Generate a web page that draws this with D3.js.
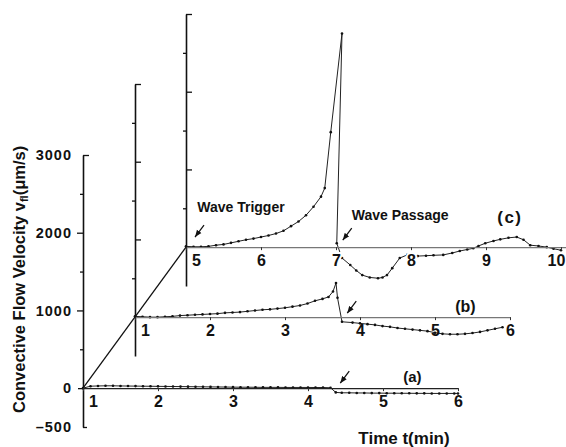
<!DOCTYPE html>
<html>
<head>
<meta charset="utf-8">
<script src="https://cdn.jsdelivr.net/npm/d3@7"></script>
<style>
body{margin:0;background:#fff;}
text{font-family:"Liberation Sans",Arial,Helvetica,sans-serif;font-weight:bold;fill:#111;}
</style>
</head>
<body>
<div class="chart"></div>
<script>
// trace (a): time in min, convective flow velocity in um/s
const timeA = [1.0,1.1,1.2,1.3,1.4,1.5,1.6,1.7,1.8,1.9,2.0,2.1,2.2,2.3,2.4,2.5,2.6,2.7,2.8,2.9,3.0,3.1,3.2,3.3,3.4,3.5,3.6,3.7,3.8,3.9,4.0,4.1,4.2,4.3,4.37,4.45,4.55,4.65,4.75,4.85,4.95,5.05,5.15,5.25,5.35,5.45,5.55,5.65,5.75,5.85,5.95,6.0];
const velA  = [0,25,28,30,30,28,27,26,25,24,23,22,21,20,19,18,17,16,15,14,13,12,12,11,10,10,10,9,9,9,9,8,8,5,-55,-60,-60,-62,-62,-64,-64,-65,-65,-66,-66,-67,-67,-68,-68,-68,-68,-68];
// trace (b)
const timeB = [1.0,1.1,1.2,1.3,1.4,1.5,1.6,1.7,1.8,1.9,2.0,2.1,2.2,2.3,2.4,2.5,2.6,2.7,2.8,2.9,3.0,3.1,3.2,3.3,3.4,3.5,3.58,3.64,3.68,3.70,3.76,3.9,4.0,4.1,4.2,4.3,4.4,4.5,4.6,4.7,4.8,4.9,5.0,5.1,5.2,5.3,5.4,5.5,5.6,5.7,5.8,5.9];
const velB  = [10,5,0,0,5,10,20,25,30,35,40,45,55,60,65,75,85,95,100,110,120,135,150,175,210,235,260,330,440,250,-60,-70,-80,-90,-100,-115,-125,-140,-150,-160,-170,-180,-200,-215,-220,-220,-215,-205,-190,-170,-150,-130];
// trace (c)
const timeC = [5.0,5.1,5.2,5.3,5.4,5.5,5.6,5.7,5.8,5.9,6.0,6.1,6.2,6.3,6.4,6.5,6.6,6.7,6.8,6.85,6.93,7.08,7.01,7.08,7.19,7.27,7.35,7.45,7.56,7.62,7.68,7.75,7.85,7.95,8.09,8.2,8.3,8.43,8.55,8.65,8.75,8.83,8.9,8.99,9.1,9.19,9.3,9.41,9.5,9.59,9.7,9.81,9.9,10.0];
const velC  = [10,5,5,10,25,35,55,75,95,110,130,150,175,210,270,330,410,520,650,760,1480,2750,50,-140,-230,-300,-360,-390,-400,-390,-360,-270,-140,-100,-115,-110,-105,-100,-75,-50,-30,-15,15,50,80,100,120,130,95,25,15,0,-20,-40];

const yTicks = [-500,0,500,1000,1500,2000,2500,3000];
const yLabels = [3000,2000,1000,0,-500];
const xTicksA = [1,2,3,4,5,6];
const xTicksB = [1,2,3,4,5,6];
const xTicksC = [5,6,7,8,9,10];
const traceNames = ["(a)","(b)","(c)"];

let outWidth = 566, outHeight = 447;

const svg = d3.select('.chart').append('svg')
  .attr("width", outWidth)
  .attr("height", outHeight);

svg.append("defs").append("marker")
  .attr("id","head")
  .attr("viewBox","0 0 10 10")
  .attr("refX",10).attr("refY",5)
  .attr("markerUnits","userSpaceOnUse")
  .attr("markerWidth",7).attr("markerHeight",7)
  .attr("orient","auto")
  .append("path").attr("d","M0,1L10,5L0,9z").attr("fill","#111");

const y = d3.scaleLinear().domain([-500,3000]).range([427,155]);
const xA = d3.scaleLinear().domain([1,6]).range([83,458]);
const xB = d3.scaleLinear().domain([1,6]).range([83,458]);
const xC = d3.scaleLinear().domain([5,10.07]).range([83,463.25]);

// depth offset of each trace (pseudo 3d stacking)
const gA = svg.append("g");
const gB = svg.append("g").attr("transform","translate(52,-71)");
const gC = svg.append("g").attr("transform","translate(103,-141)");

// oblique line through the three origins
svg.append("line")
  .attr("x1", xA(1)).attr("y1", y(0))
  .attr("x2", xA(1)+103).attr("y2", y(0)-141)
  .attr("stroke","#111").attr("stroke-width",1.3);

function drawPanel(g, x, times, vals, ticks, main, halo){
  const pts = d3.zip(times, vals);

  // vertical axis
  const ya = g.append("g")
    .attr("transform", `translate(${x.range()[0]},0)`)
    .call(d3.axisLeft(y).tickValues(yTicks).tickSizeOuter(0)
      .tickFormat(d => main && yLabels.includes(d) ? String(d).replace("-","\u2013") : "")
      .tickPadding(5));
  ya.select(".domain").attr("stroke","#111").attr("stroke-width",1.6);
  ya.selectAll(".tick line")
    .attr("stroke","#111").attr("stroke-width",1.3)
    .attr("x2", d => {
      if (d === 3000) return 6;
      if (d === -500) return main ? 4 : 0;
      if (d === 0) return main ? -5 : 0;
      if (d % 1000 === 0) return main ? -6 : 6;
      return -3;
    });
  ya.selectAll(".tick text")
    .attr("font-size",14.5).attr("font-family",null).attr("letter-spacing",1)
    .attr("fill","#111");

  // line + sample markers
  g.append("path")
    .datum(pts)
    .attr("fill","none")
    .attr("stroke","#222")
    .attr("stroke-width",1)
    .attr("d", d3.line().x(d=>x(d[0])).y(d=>y(d[1])));
  g.selectAll("circle.pt")
    .data(pts)
    .enter()
    .append("circle")
    .attr("class","pt")
    .attr("cx", d=>x(d[0]))
    .attr("cy", d=>y(d[1]))
    .attr("r",1.3)
    .attr("fill","#111");

  // time axis
  const xa = g.append("g")
    .attr("transform", `translate(0,${y(0)})`)
    .call(d3.axisBottom(x).tickValues(ticks).tickSize(3).tickSizeOuter(0).tickPadding(4)
      .tickFormat(d3.format("d")));
  xa.select(".domain").attr("stroke", main ? "#222" : "#777").attr("stroke-width",1.2);
  xa.selectAll(".tick line").attr("stroke","#333");
  xa.selectAll(".tick text")
    .attr("font-size",16).attr("font-family",null).attr("fill","#111")
    .attr("x", d => d === ticks[0] ? 10 : (d === 10 ? -5 : 0));
  if (halo) {
    xa.selectAll(".tick text")
      .attr("stroke","#fff").attr("stroke-width",4).attr("paint-order","stroke");
  }
}

drawPanel(gA, xA, timeA, velA, xTicksA, true, false);
drawPanel(gB, xB, timeB, velB, xTicksB, false, false);
drawPanel(gC, xC, timeC, velC, xTicksC, false, true);

function arrow(g, px, py){
  g.append("line")
    .attr("x1", px+9).attr("y1", py-12)
    .attr("x2", px).attr("y2", py)
    .attr("stroke","#111").attr("stroke-width",1.3)
    .attr("marker-end","url(#head)");
}
arrow(gC, xC(5.12), y(130));
arrow(gC, xC(7.09), y(90));
arrow(gB, xB(3.83), y(51));
arrow(gA, xA(4.43), y(64));

gC.append("text").attr("x", xC(5.15)).attr("y", y(450)).attr("font-size",14).text("Wave Trigger");
gC.append("text").attr("x", xC(7.21)).attr("y", y(347)).attr("font-size",14).text("Wave Passage");
gC.append("text").attr("x", xC(9.15)).attr("y", y(309)).attr("font-size",17).attr("letter-spacing",1.5).text(traceNames[2]);
gB.append("text").attr("x", xB(5.27)).attr("y", y(64)).attr("font-size",16).text(traceNames[1]);
gA.append("text").attr("x", xA(5.27)).attr("y", y(77)).attr("font-size",15).text(traceNames[0]);

svg.append("text")
  .attr("x", 404).attr("y", 444)
  .attr("text-anchor","middle")
  .attr("font-size",17)
  .text("Time t(min)");

const yt = svg.append("text")
  .attr("transform","translate(25,413) rotate(-90)")
  .attr("font-size",16.5);
yt.append("tspan").text("Convective Flow Velocity  v");
yt.append("tspan").attr("font-size",11).attr("dy",3).text("fl");
yt.append("tspan").attr("dy",-3).text("(\u03bcm/s)");
</script>
</body>
</html>
